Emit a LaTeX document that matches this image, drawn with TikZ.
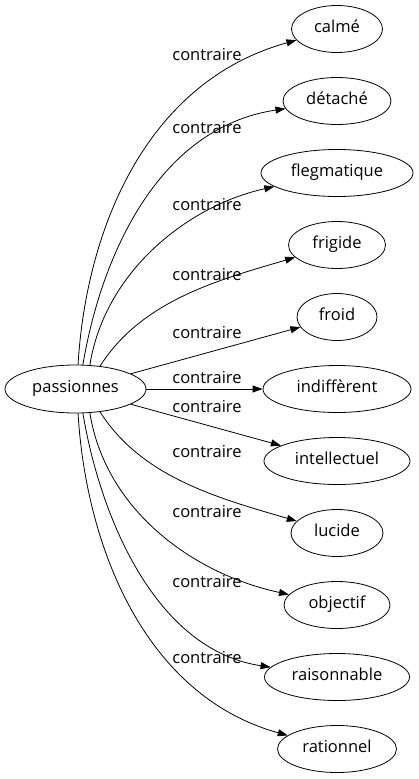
\documentclass[tikz,border=0pt]{standalone}
\usepackage{fontspec}
\setmainfont{Open Sans}
\usetikzlibrary{shapes.geometric,arrows.meta}
\begin{document}
\begin{tikzpicture}[x=1pt,y=-1pt,
  every node/.style={font=\fontsize{16.5}{20}\selectfont},
  term/.style={ellipse,draw,line width=0.8pt,inner sep=0pt,minimum height=47pt,text height=0.78em,text depth=0.05em},
  lbl/.style={inner sep=0pt},
  edge/.style={draw,line width=0.8pt,-{Triangle[length=10pt,width=7pt]}}]
\useasboundingbox (0,0) rectangle (418,779);
\node[term,minimum width=141pt,minimum height=48pt] (p) at (75.5,389) {passionnes};
\node[term,minimum width=91pt]  (n1)  at (337,29)  {calmé};
\node[term,minimum width=108pt] (n2)  at (337,101) {détaché};
\node[term,minimum width=152pt] (n3)  at (337,173) {flegmatique};
\node[term,minimum width=97pt]  (n4)  at (337,245) {frigide};
\node[term,minimum width=80pt]  (n5)  at (337,317) {froid};
\node[term,minimum width=148pt] (n6)  at (337,389) {indiffèrent};
\node[term,minimum width=146pt] (n7)  at (337,461) {intellectuel};
\node[term,minimum width=92pt]  (n8)  at (337,533) {lucide};
\node[term,minimum width=106pt] (n9)  at (337,605) {objectif};
\node[term,minimum width=145pt] (n10) at (337,677) {raisonnable};
\node[term,minimum width=119pt] (n11) at (337,749) {rationnel};
\node[lbl] (l1)  at (207,55)  {contraire};
\node[lbl] (l2)  at (207,128) {contraire};
\node[lbl] (l3)  at (207,205) {contraire};
\node[lbl] (l4)  at (207,275) {contraire};
\node[lbl] (l5)  at (207,333) {contraire};
\node[lbl] (l6)  at (207,378) {contraire};
\node[lbl] (l7)  at (207,407) {contraire};
\node[lbl] (l8)  at (207,452) {contraire};
\node[lbl] (l9)  at (207,512) {contraire};
\node[lbl] (l10) at (207,582) {contraire};
\node[lbl] (l11) at (207,658) {contraire};
\draw[edge] (p.84) .. controls (86,231) and (145,82) .. (n1);
\draw[edge] (p.73) .. controls (100,262) and (155,128) .. (n2);
\draw[edge] (p.59) .. controls (105,270) and (190,205) .. (n3);
\draw[edge] (p.43) .. controls (142,300) and (220,279.5) .. (n4);
\draw[edge] (p) -- (n5);
\draw[edge] (p) -- (n6);
\draw[edge] (p) -- (n7);
\draw[edge] (p.-43) .. controls (142,478) and (220,498.5) .. (n8);
\draw[edge] (p.-59) .. controls (105,508) and (190,573) .. (n9);
\draw[edge] (p.-73) .. controls (100,516) and (155,650) .. (n10);
\draw[edge] (p.-84) .. controls (86,547) and (145,696) .. (n11);
\end{tikzpicture}
\end{document}
